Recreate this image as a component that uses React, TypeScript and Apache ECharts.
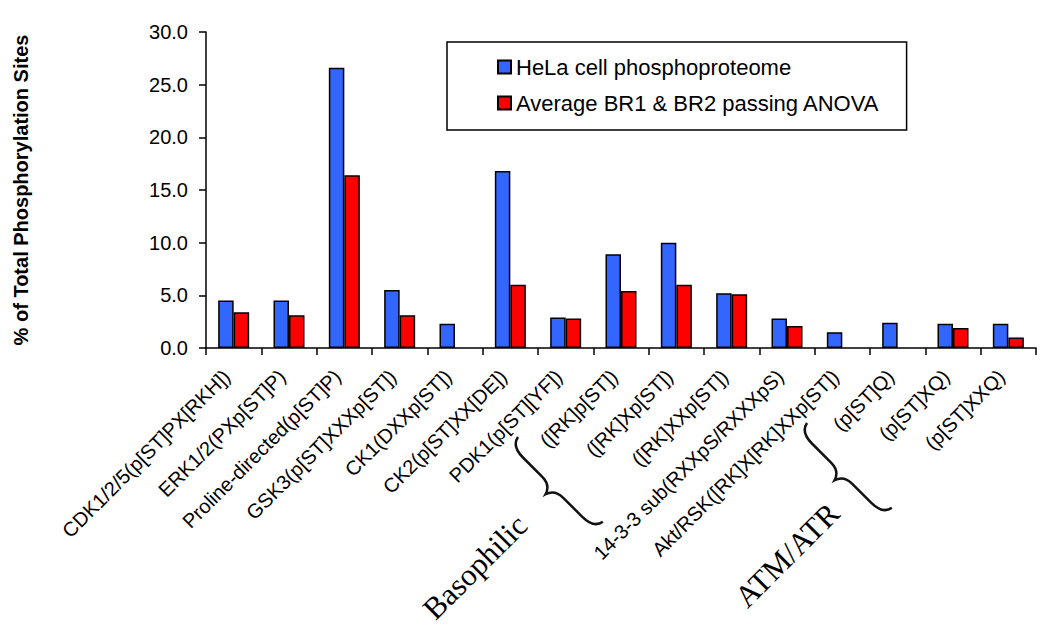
import React, { useEffect, useRef } from "react";
import * as echarts from "echarts";

const categories = [
  "CDK1/2/5(p[ST]PX[RKH])",
  "ERK1/2(PXp[ST]P)",
  "Proline-directed(p[ST]P)",
  "GSK3(p[ST]XXXp[ST])",
  "CK1(DXXp[ST])",
  "CK2(p[ST]XX[DE])",
  "PDK1(p[ST][YF])",
  "([RK]p[ST])",
  "([RK]Xp[ST])",
  "([RK]XXp[ST])",
  "14-3-3 sub(RXXpS/RXXXpS)",
  "Akt/RSK([RK]X[RK]XXp[ST])",
  "(p[ST]Q)",
  "(p[ST]XQ)",
  "(p[ST]XXQ)",
];

const helaValues = [4.5, 4.5, 26.6, 5.5, 2.3, 16.8, 2.9, 8.9, 10.0, 5.2, 2.8, 1.5, 2.4, 2.3, 2.3];
const anovaValues = [3.4, 3.1, 16.4, 3.1, null, 6.0, 2.8, 5.4, 6.0, 5.1, 2.1, null, null, 1.9, 1.0];

const seriesNames = ["HeLa cell phosphoproteome", "Average BR1 & BR2 passing ANOVA"];
const groupLabels = ["Basophilic", "ATM/ATR"];

const SANS = "'Liberation Sans', Arial, sans-serif";
const SERIF = "'Liberation Serif', 'Times New Roman', serif";

const braceD =
  "M0,0 Q2,11 18,11 L45,11 Q57,11 60,21 Q63,11 75,11 L102,11 Q118,11 120,0";

let registered = false;
function ensureShapes() {
  if (registered) return;
  echarts.graphic.registerShape("brace", echarts.graphic.extendPath(braceD, {}));
  registered = true;
}

export default function App() {
  const ref = useRef<HTMLDivElement>(null);

  useEffect(() => {
    if (!ref.current) return;
    ensureShapes();
    const chart = echarts.init(ref.current, undefined, { renderer: "svg" });
    const barStyle = (color: string) => ({
      color,
      borderColor: "#000",
      borderWidth: 1.5,
    });
    chart.setOption({
      animation: false,
      backgroundColor: "#fff",
      grid: { left: 206, right: 14, top: 32, bottom: 281, containLabel: false },
      legend: {
        orient: "vertical",
        left: 447,
        top: 42,
        padding: [14, 27, 16, 50],
        itemGap: 14,
        itemWidth: 13,
        itemHeight: 13,
        icon: "rect",
        borderColor: "#000",
        borderWidth: 1.5,
        textStyle: { fontFamily: SANS, fontSize: 22, color: "#000" },
        data: seriesNames,
      },
      xAxis: {
        type: "category",
        data: categories,
        boundaryGap: true,
        axisLine: { lineStyle: { color: "#000", width: 1.5 } },
        axisTick: { show: true, interval: 0, length: 7, lineStyle: { color: "#000", width: 1.5 } },
        axisLabel: {
          interval: 0,
          rotate: 45,
          margin: 18,
          padding: [0, 10, 0, 0],
          fontFamily: SANS,
          fontSize: 20,
          color: "#000",
        },
      },
      yAxis: {
        type: "value",
        min: 0,
        max: 30,
        interval: 5,
        name: "% of Total Phosphorylation Sites",
        nameLocation: "middle",
        nameGap: 175,
        nameTextStyle: { fontFamily: SANS, fontSize: 20, fontWeight: "bold", color: "#000" },
        axisLine: { show: true, lineStyle: { color: "#000", width: 1.5 } },
        axisTick: { show: true, length: 7, lineStyle: { color: "#000", width: 1.5 } },
        splitLine: { show: false },
        axisLabel: {
          margin: 18,
          fontFamily: SANS,
          fontSize: 20,
          color: "#000",
          formatter: (v: number) => v.toFixed(1),
        },
      },
      series: [
        {
          name: seriesNames[0],
          type: "bar",
          data: helaValues,
          barWidth: 15.5,
          barGap: "0%",
          itemStyle: barStyle("#3366FF"),
        },
        {
          name: seriesNames[1],
          type: "bar",
          data: anovaValues,
          barWidth: 15.5,
          barGap: "0%",
          itemStyle: barStyle("#FF0000"),
        },
      ],
      graphic: [
        {
          type: "brace",
          x: 518,
          y: 437,
          rotation: -Math.PI / 4,
          style: { fill: "none", stroke: "#111", lineWidth: 2.5 },
          silent: true,
        },
        {
          type: "brace",
          x: 807,
          y: 423,
          rotation: -Math.PI / 4,
          style: { fill: "none", stroke: "#111", lineWidth: 2.5 },
          silent: true,
        },
        {
          type: "text",
          x: 475,
          y: 567,
          rotation: Math.PI / 4,
          style: {
            text: groupLabels[0],
            fontFamily: SERIF,
            fontSize: 31,
            fill: "#000",
            align: "center",
            verticalAlign: "middle",
          },
        },
        {
          type: "text",
          x: 787,
          y: 555,
          rotation: Math.PI / 4,
          style: {
            text: groupLabels[1],
            fontFamily: SERIF,
            fontSize: 31,
            fill: "#000",
            align: "center",
            verticalAlign: "middle",
          },
        },
      ],
    });
    return () => chart.dispose();
  }, []);

  return (
    <div
      ref={ref}
      style={{ position: "fixed", left: 0, top: 0, width: 1050, height: 629, background: "#fff" }}
    />
  );
}
